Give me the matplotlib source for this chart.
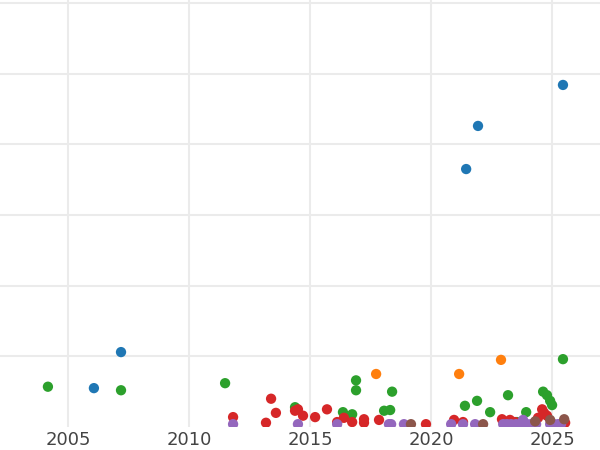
import matplotlib
matplotlib.use("Agg")
import matplotlib.pyplot as plt

blue_x = [2006.07, 2007.19, 2021.45, 2021.94, 2025.45]
blue_y = [55, 106, 365, 426, 484]

orange_x = [2017.73, 2021.16, 2022.89]
orange_y = [75, 75, 95]

green_x = [2004.17, 2007.19, 2011.49, 2014.38, 2016.36, 2016.74, 2016.90, 2016.90,
           2018.06, 2018.31, 2018.39, 2021.40, 2021.90, 2022.44, 2023.18, 2023.55,
           2023.93, 2024.63, 2024.79, 2024.92, 2025.00, 2025.45]
green_y = [57, 52, 62, 28, 21, 18, 66, 52,
           23, 24, 50, 30, 37, 21, 45, 7,
           21, 50, 45, 37, 31, 96]

red_x = [2011.82, 2013.18, 2013.39, 2013.59, 2014.38, 2014.50, 2014.71, 2015.21,
         2015.70, 2016.12, 2016.40, 2016.74, 2017.23, 2017.23, 2017.85, 2019.79,
         2020.95, 2021.32, 2022.93, 2023.26, 2023.47, 2024.42, 2024.59, 2024.67,
         2024.79, 2025.54]
red_y = [14, 6, 40, 20, 23, 25, 16, 14,
         25, 7, 13, 7, 11, 6, 10, 4,
         10, 7, 11, 10, 7, 13, 25, 20,
         16, 6]

purple_x = [2011.82, 2014.50, 2016.12, 2018.26, 2018.35, 2018.88, 2020.83, 2021.32,
            2021.82, 2022.98, 2023.14, 2023.31, 2023.51, 2023.68, 2023.80, 2023.97,
            2024.13, 2024.34, 2024.92, 2025.08, 2025.25, 2025.37]
purple_y = [4, 4, 4, 4, 4, 4, 4, 4,
            4, 4, 4, 4, 4, 4, 10, 4,
            4, 4, 4, 4, 4, 4]

brown_x = [2019.17, 2022.15, 2024.30, 2024.92, 2025.50]
brown_y = [4, 4, 8, 10, 11]

series = [
    (blue_x, blue_y, "#1f77b4"),
    (orange_x, orange_y, "#ff7f0e"),
    (green_x, green_y, "#2ca02c"),
    (red_x, red_y, "#d62728"),
    (purple_x, purple_y, "#9467bd"),
    (brown_x, brown_y, "#8c564b"),
]

x_ticks = [2005, 2010, 2015, 2020, 2025]
y_ticks = [100, 200, 300, 400, 500, 600]

fig = plt.figure(figsize=(6, 4.5), dpi=100)
ax = fig.add_axes([0, 23 / 450, 1, 427 / 450])
for xs, ys, c in series:
    ax.scatter(xs, ys, s=55, color=c, edgecolors="none", zorder=3)

ax.set_xlim(2002.19, 2026.98)
ax.set_ylim(0, 604.2)
ax.set_xticks(x_ticks)
ax.set_xticklabels([str(t) for t in x_ticks])
ax.set_yticks(y_ticks)
ax.set_yticklabels([])
ax.grid(True, color="#ebebeb", linewidth=1.5, zorder=0)
ax.set_axisbelow(True)
for s in ax.spines.values():
    s.set_visible(False)
ax.tick_params(axis="both", length=0, labelsize=13, labelcolor="#444444", pad=3)

fig.savefig("out.png", dpi=100)
